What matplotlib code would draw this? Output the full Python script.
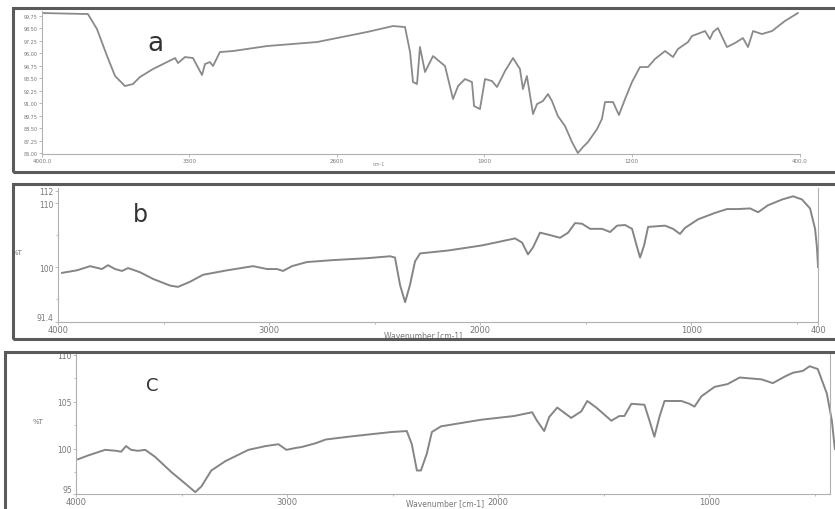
import matplotlib
matplotlib.use('Agg')
import matplotlib.pyplot as plt
from matplotlib.patches import Rectangle

# espectro a
wn_a = [4000, 3782, 3739, 3691, 3653, 3606, 3568, 3535, 3473, 3406, 3368, 3354, 3321, 3283,
        3240, 3226, 3202, 3188, 3155, 3093, 2931, 2694, 2457, 2333, 2276, 2252, 2238, 2219,
        2205, 2181, 2143, 2086, 2048, 2024, 1991, 1958, 1948, 1920, 1896, 1863, 1839, 1801,
        1763, 1730, 1716, 1697, 1668, 1649, 1621, 1597, 1578, 1550, 1516, 1483, 1455, 1431,
        1407, 1364, 1341, 1326, 1288, 1260, 1231, 1198, 1160, 1122, 1089, 1041, 1003, 980,
        932, 913, 851, 828, 813, 790, 747, 709, 671, 647, 623, 581, 533, 472, 410]
t_a = [100.0, 99.9, 98.4, 95.7, 93.7, 92.7, 92.9, 93.6, 94.4, 95.1, 95.5, 95.0, 95.6, 95.5,
       93.8, 94.9, 95.1, 94.7, 96.1, 96.2, 96.7, 97.1, 98.1, 98.7, 98.6, 96.1, 93.1, 92.9,
       96.6, 94.1, 95.7, 94.7, 91.4, 92.7, 93.4, 93.1, 90.7, 90.4, 93.4, 93.2, 92.6, 94.2,
       95.5, 94.4, 92.4, 93.7, 89.9, 90.9, 91.2, 91.9, 91.2, 89.7, 88.7, 87.1, 86.0, 86.6,
       87.1, 88.4, 89.4, 91.1, 91.1, 89.8, 91.4, 93.1, 94.6, 94.6, 95.4, 96.2, 95.6, 96.4,
       97.1, 97.7, 98.2, 97.4, 98.1, 98.5, 96.6, 97.0, 97.5, 96.6, 98.2, 97.9, 98.2, 99.2, 100.0]

# espectro b
wn_b = [3981, 3910, 3848, 3792, 3763, 3730, 3697, 3668, 3612, 3550, 3469, 3432, 3375, 3313,
        3199, 3076, 3010, 2963, 2934, 2892, 2854, 2820, 2697, 2536, 2427, 2404, 2380, 2356,
        2333, 2309, 2285, 2153, 1992, 1835, 1802, 1774, 1750, 1717, 1679, 1622, 1584, 1551,
        1518, 1480, 1423, 1385, 1352, 1314, 1281, 1257, 1243, 1224, 1205, 1125, 1087, 1054,
        1030, 968, 888, 831, 779, 722, 684, 637, 570, 518, 476, 438, 414, 405, 400]
t_b = [99.1, 99.5, 100.15, 99.7, 100.3, 99.7, 99.4, 99.85, 99.2, 98.15, 97.1, 96.9, 97.7, 98.8,
       99.5, 100.15, 99.7, 99.7, 99.4, 100.15, 100.5, 100.8, 101.1, 101.4, 101.7, 101.5, 97.2, 94.5,
       97.2, 100.9, 102.15, 102.6, 103.4, 104.5, 103.85, 102.0, 103.1, 105.4, 105.1, 104.6, 105.4, 106.9,
       106.8, 106.0, 106.0, 105.5, 106.5, 106.6, 106.0, 103.1, 101.5, 103.4, 106.3, 106.5, 106.0, 105.2,
       106.15, 107.5, 108.5, 109.1, 109.1, 109.2, 108.6, 109.7, 110.6, 111.1, 110.6, 109.2, 106.0, 103.0, 100.0]

# espectro c
wn_c = [3990, 3943, 3862, 3810, 3786, 3763, 3739, 3706, 3672, 3625, 3549, 3482, 3435, 3406,
        3359, 3292, 3183, 3102, 3041, 3003, 2960, 2931, 2865, 2817, 2708, 2628, 2504, 2433,
        2409, 2385, 2366, 2338, 2314, 2271, 2082, 1925, 1839, 1816, 1782, 1758, 1720, 1654,
        1606, 1578, 1535, 1464, 1426, 1402, 1369, 1307, 1283, 1260, 1236, 1212, 1132, 1094,
        1070, 1037, 975, 913, 856, 752, 699, 642, 604, 557, 524, 486, 443, 419, 405]
t_c = [98.9, 99.3, 99.9, 99.8, 99.7, 100.3, 99.9, 99.8, 99.9, 99.15, 97.55, 96.3, 95.4, 96.0,
       97.7, 98.7, 99.9, 100.3, 100.5, 99.9, 100.1, 100.2, 100.6, 101.0, 101.3, 101.5, 101.8, 101.9,
       100.5, 97.7, 97.7, 99.5, 101.8, 102.4, 103.1, 103.5, 103.9, 103.0, 101.9, 103.4, 104.4, 103.3,
       104.0, 105.1, 104.4, 103.0, 103.5, 103.5, 104.8, 104.7, 103.0, 101.3, 103.4, 105.1, 105.1, 104.8,
       104.5, 105.6, 106.6, 106.9, 107.6, 107.4, 107.0, 107.7, 108.1, 108.3, 108.8, 108.5, 105.9, 103.0, 100.0]

xt_a = [4000, 3300, 2600, 1900, 1200, 400]
xl_a = ['4000.0', '3300', '2600', '1900', '1200', '400.0']
yt_a = [86.0 + 1.25 * k for k in range(12)]

fig = plt.figure(figsize=(8.35, 5.1), dpi=100)
fig.patch.set_facecolor('white')

# marcos exteriores
for (x0, y0, w, h) in [(0.0156, 0.6608, 1.0, 0.3216),
                       (0.0156, 0.3333, 1.0, 0.3039),
                       (0.006, -0.02, 1.0, 0.328)]:
    fig.add_artist(Rectangle((x0, y0), w, h, transform=fig.transFigure,
                             fill=False, edgecolor='#5a5a5a', lw=2.2, clip_on=False))

gris = '#b0b0b0'

def estilo(ax):
    for s in ['top', 'right']:
        ax.spines[s].set_visible(False)
    for s in ['left', 'bottom']:
        ax.spines[s].set_color(gris)
        ax.spines[s].set_linewidth(0.8)
    ax.tick_params(colors=gris, labelcolor='#777777', length=2, width=0.6,
                   labelsize=6, pad=1)
    ax.set_facecolor('none')

# Grafica a
ax1 = fig.add_axes([0.0503, 0.696, 0.9078, 0.2804])
ax1.plot(wn_a, t_a, color='#8a8a8a', lw=1.3)
ax1.set_xlim(4000, 400)
ax1.set_ylim(85.9, 100.2)
estilo(ax1)
ax1.set_xticks(xt_a)
ax1.set_xticklabels(xl_a, fontsize=4)
ax1.set_yticks(yt_a)
ax1.set_yticklabels(['%.2f' % v for v in yt_a], fontsize=3.5)
ax1.text(2400, 84.8, 'cm-1', fontsize=3.5, color='#888888', ha='center')
ax1.text(3460, 97.0, 'a', fontsize=19, color='#333333', ha='center', va='center')

# Grafica b
ax2 = fig.add_axes([0.0695, 0.3667, 0.9102, 0.2627])
ax2.plot(wn_b, t_b, color='#858585', lw=1.4)
ax2.set_xlim(4000, 400)
ax2.set_ylim(91.4, 112.4)
estilo(ax2)
ax2.spines['right'].set_visible(True)
ax2.spines['right'].set_color(gris)
ax2.spines['right'].set_linewidth(0.8)
ax2.set_xticks([4000, 3000, 2000, 1000, 400])
ax2.set_xticklabels(['4000', '3000', '2000', '1000', '400'])
ax2.tick_params(axis='x', pad=0)
ax2.set_xticks([3500, 2500, 1500, 500], minor=True)
ax2.set_yticks([91.4, 100, 110, 112])
ax2.set_yticklabels(['91.4', '100', '110', '112'], fontsize=5.5)
ax2.get_yticklabels()[0].set_va('bottom')
ax2.set_yticks([95, 105], minor=True)
ax2.tick_params(which='minor', colors=gris, length=1.5)
ax2.set_xlabel('Wavenumber [cm-1]', fontsize=5.5, color='#777777')
ax2.xaxis.set_label_coords(0.48, -0.058)
ax2.set_ylabel('%T', fontsize=5, color='#777777', rotation=0, labelpad=14)
ax2.text(3610, 108.3, 'b', fontsize=17, color='#333333', ha='center', va='center')

# Grafica c
ax3 = fig.add_axes([0.091, 0.0294, 0.903, 0.2745])
ax3.plot(wn_c, t_c, color='#858585', lw=1.4, clip_on=False)
ax3.set_xlim(4000, 428)
ax3.set_ylim(95.2, 110.1)
estilo(ax3)
ax3.spines['right'].set_visible(True)
ax3.spines['right'].set_color(gris)
ax3.spines['right'].set_linewidth(0.8)
ax3.set_xticks([4000, 3000, 2000, 1000])
ax3.set_xticklabels(['4000', '3000', '2000', '1000'])
ax3.tick_params(axis='x', pad=0)
ax3.set_xticks([3500, 2500, 1500, 500], minor=True)
ax3.set_yticks([95.2, 100, 105, 110])
ax3.set_yticklabels(['95', '100', '105', '110'], fontsize=5.5)
ax3.get_yticklabels()[0].set_va('bottom')
ax3.set_yticks([97.5, 102.5, 107.5], minor=True)
ax3.tick_params(which='minor', colors=gris, length=1.5)
fig.text(0.533, 0.003, 'Wavenumber [cm-1]', fontsize=5.5, color='#777777',
         ha='center', va='bottom')
ax3.set_ylabel('%T', fontsize=5, color='#777777', rotation=0, labelpad=14)
ax3.text(3640, 106.8, 'C', fontsize=13, color='#333333', ha='center', va='center')

plt.savefig('out.png', dpi=100)
plt.close()
